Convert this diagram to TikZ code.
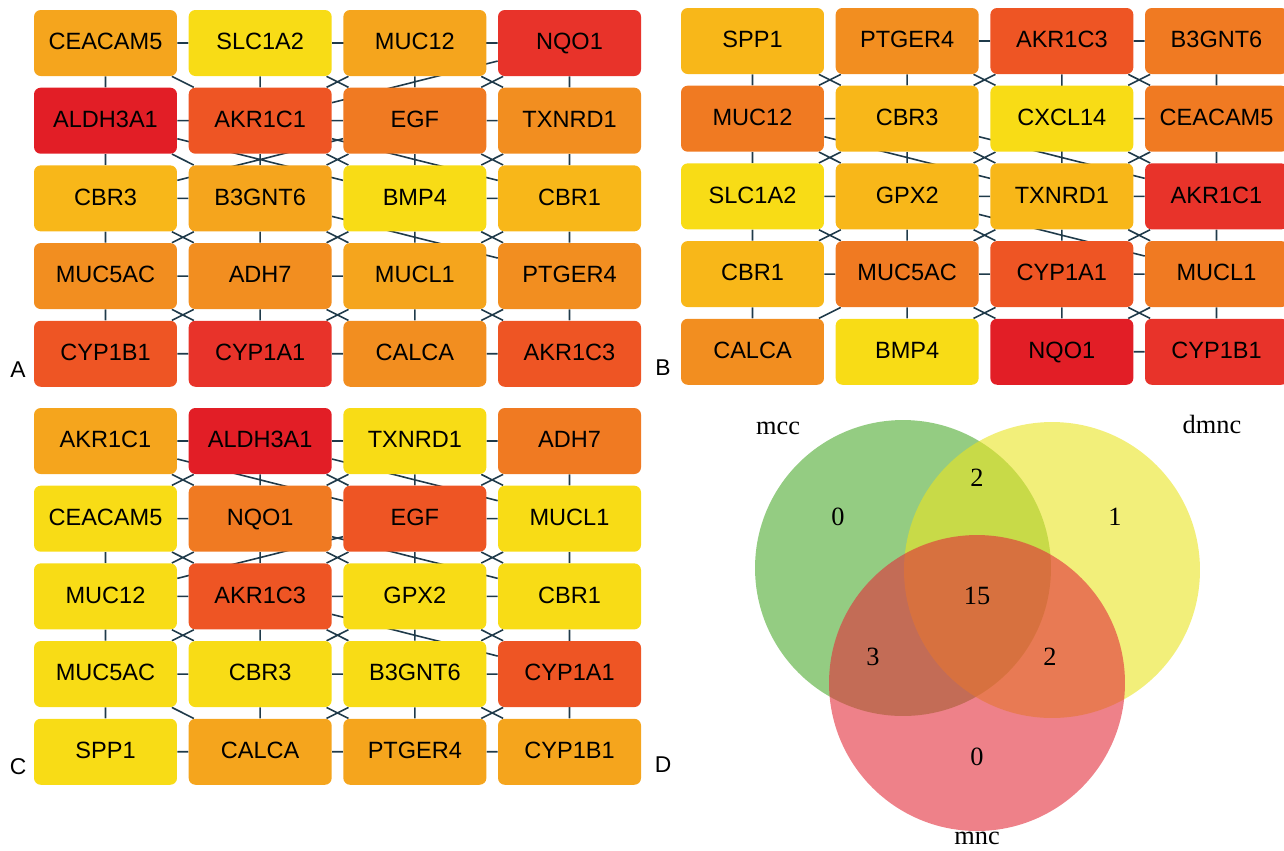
\documentclass[tikz,border=0pt]{standalone}
\usepackage{fontspec}
\setmainfont{Liberation Sans}
\newfontfamily\vennfont{Liberation Serif}
\usepackage{xcolor}
\usepackage{tikz}
\usetikzlibrary{positioning,backgrounds}
\definecolor{hubDeep}{HTML}{E21E26}
\definecolor{hubRed}{HTML}{E8332A}
\definecolor{hubVermil}{HTML}{EE5524}
\definecolor{hubOrange}{HTML}{F07A22}
\definecolor{hubAmber}{HTML}{F28E20}
\definecolor{hubGold}{HTML}{F5A51D}
\definecolor{hubSaffron}{HTML}{F8B719}
\definecolor{hubYellow}{HTML}{F8DC16}
\definecolor{netInk}{HTML}{1F3A4A}
\definecolor{vennGreen}{HTML}{4DAA2E}
\definecolor{vennYellow}{HTML}{EAE422}
\definecolor{vennRed}{HTML}{E22D3A}
\tikzset{
  gene box/.style={rounded corners=3.8pt,minimum width=2.86cm,minimum height=1.32cm,
    inner sep=2pt,text height=1.75ex,text depth=0.3ex,font=\fontsize{13.4}{15}\selectfont,text=black},
  net edge/.style={draw=netInk,line width=0.9pt},
  panel tag/.style={font=\fontsize{13}{15}\selectfont},
  venn set/.style={fill opacity=0.6},
  venn text/.style={font=\vennfont\fontsize{15}{17}\selectfont}
}

\begin{document}
\begin{tikzpicture}[x=0.02cm,y=-0.02cm,node distance=0.22cm and 0.22cm]
\useasboundingbox (0,0) rectangle (1284,850);
% panel A
\node[gene box,fill=hubGold] (A-CEACAM5) at (105.5,43) {CEACAM5};
\node[gene box,fill=hubYellow,right=of A-CEACAM5] (A-SLC1A2) {SLC1A2};
\node[gene box,fill=hubGold,right=of A-SLC1A2] (A-MUC12) {MUC12};
\node[gene box,fill=hubRed,right=of A-MUC12] (A-NQO1) {NQO1};
\node[gene box,fill=hubDeep,below=of A-CEACAM5] (A-ALDH3A1) {ALDH3A1};
\node[gene box,fill=hubVermil,right=of A-ALDH3A1] (A-AKR1C1) {AKR1C1};
\node[gene box,fill=hubOrange,right=of A-AKR1C1] (A-EGF) {EGF};
\node[gene box,fill=hubAmber,right=of A-EGF] (A-TXNRD1) {TXNRD1};
\node[gene box,fill=hubSaffron,below=of A-ALDH3A1] (A-CBR3) {CBR3};
\node[gene box,fill=hubGold,right=of A-CBR3] (A-B3GNT6) {B3GNT6};
\node[gene box,fill=hubYellow,right=of A-B3GNT6] (A-BMP4) {BMP4};
\node[gene box,fill=hubSaffron,right=of A-BMP4] (A-CBR1) {CBR1};
\node[gene box,fill=hubAmber,below=of A-CBR3] (A-MUC5AC) {MUC5AC};
\node[gene box,fill=hubAmber,right=of A-MUC5AC] (A-ADH7) {ADH7};
\node[gene box,fill=hubGold,right=of A-ADH7] (A-MUCL1) {MUCL1};
\node[gene box,fill=hubAmber,right=of A-MUCL1] (A-PTGER4) {PTGER4};
\node[gene box,fill=hubVermil,below=of A-MUC5AC] (A-CYP1B1) {CYP1B1};
\node[gene box,fill=hubRed,right=of A-CYP1B1] (A-CYP1A1) {CYP1A1};
\node[gene box,fill=hubAmber,right=of A-CYP1A1] (A-CALCA) {CALCA};
\node[gene box,fill=hubVermil,right=of A-CALCA] (A-AKR1C3) {AKR1C3};
\node[panel tag] (tagA) at (18,370) {A};
% panel B
\node[gene box,fill=hubSaffron] (B-SPP1) at (752.5,41) {SPP1};
\node[gene box,fill=hubAmber,right=of B-SPP1] (B-PTGER4) {PTGER4};
\node[gene box,fill=hubVermil,right=of B-PTGER4] (B-AKR1C3) {AKR1C3};
\node[gene box,fill=hubOrange,right=of B-AKR1C3] (B-B3GNT6) {B3GNT6};
\node[gene box,fill=hubOrange,below=of B-SPP1] (B-MUC12) {MUC12};
\node[gene box,fill=hubSaffron,right=of B-MUC12] (B-CBR3) {CBR3};
\node[gene box,fill=hubYellow,right=of B-CBR3] (B-CXCL14) {CXCL14};
\node[gene box,fill=hubOrange,right=of B-CXCL14] (B-CEACAM5) {CEACAM5};
\node[gene box,fill=hubYellow,below=of B-MUC12] (B-SLC1A2) {SLC1A2};
\node[gene box,fill=hubSaffron,right=of B-SLC1A2] (B-GPX2) {GPX2};
\node[gene box,fill=hubSaffron,right=of B-GPX2] (B-TXNRD1) {TXNRD1};
\node[gene box,fill=hubRed,right=of B-TXNRD1] (B-AKR1C1) {AKR1C1};
\node[gene box,fill=hubSaffron,below=of B-SLC1A2] (B-CBR1) {CBR1};
\node[gene box,fill=hubOrange,right=of B-CBR1] (B-MUC5AC) {MUC5AC};
\node[gene box,fill=hubVermil,right=of B-MUC5AC] (B-CYP1A1) {CYP1A1};
\node[gene box,fill=hubOrange,right=of B-CYP1A1] (B-MUCL1) {MUCL1};
\node[gene box,fill=hubAmber,below=of B-CBR1] (B-CALCA) {CALCA};
\node[gene box,fill=hubYellow,right=of B-CALCA] (B-BMP4) {BMP4};
\node[gene box,fill=hubDeep,right=of B-BMP4] (B-NQO1) {NQO1};
\node[gene box,fill=hubRed,right=of B-NQO1] (B-CYP1B1) {CYP1B1};
\node[panel tag] (tagB) at (663,368) {B};
% panel C
\node[gene box,fill=hubGold] (C-AKR1C1) at (105.5,441) {AKR1C1};
\node[gene box,fill=hubDeep,right=of C-AKR1C1] (C-ALDH3A1) {ALDH3A1};
\node[gene box,fill=hubYellow,right=of C-ALDH3A1] (C-TXNRD1) {TXNRD1};
\node[gene box,fill=hubOrange,right=of C-TXNRD1] (C-ADH7) {ADH7};
\node[gene box,fill=hubYellow,below=of C-AKR1C1] (C-CEACAM5) {CEACAM5};
\node[gene box,fill=hubOrange,right=of C-CEACAM5] (C-NQO1) {NQO1};
\node[gene box,fill=hubVermil,right=of C-NQO1] (C-EGF) {EGF};
\node[gene box,fill=hubYellow,right=of C-EGF] (C-MUCL1) {MUCL1};
\node[gene box,fill=hubYellow,below=of C-CEACAM5] (C-MUC12) {MUC12};
\node[gene box,fill=hubVermil,right=of C-MUC12] (C-AKR1C3) {AKR1C3};
\node[gene box,fill=hubYellow,right=of C-AKR1C3] (C-GPX2) {GPX2};
\node[gene box,fill=hubYellow,right=of C-GPX2] (C-CBR1) {CBR1};
\node[gene box,fill=hubYellow,below=of C-MUC12] (C-MUC5AC) {MUC5AC};
\node[gene box,fill=hubYellow,right=of C-MUC5AC] (C-CBR3) {CBR3};
\node[gene box,fill=hubYellow,right=of C-CBR3] (C-B3GNT6) {B3GNT6};
\node[gene box,fill=hubVermil,right=of C-B3GNT6] (C-CYP1A1) {CYP1A1};
\node[gene box,fill=hubYellow,below=of C-MUC5AC] (C-SPP1) {SPP1};
\node[gene box,fill=hubGold,right=of C-SPP1] (C-CALCA) {CALCA};
\node[gene box,fill=hubGold,right=of C-CALCA] (C-PTGER4) {PTGER4};
\node[gene box,fill=hubGold,right=of C-PTGER4] (C-CYP1B1) {CYP1B1};
\node[panel tag] (tagC) at (18,767) {C};
\node[panel tag] (tagD) at (663,765) {D};

\begin{scope}[on background layer]
\draw[net edge] (A-CEACAM5) -- (A-SLC1A2) (A-CEACAM5) -- (A-AKR1C1) (A-CEACAM5) -- (A-ALDH3A1)
  (A-SLC1A2) -- (A-AKR1C1) (A-SLC1A2) -- (A-EGF) (A-SLC1A2) -- (A-NQO1)
  (A-MUC12) -- (A-NQO1) (A-MUC12) -- (A-AKR1C1) (A-MUC12) -- (A-EGF) (A-MUC12) -- (A-TXNRD1)
  (A-NQO1) -- (A-TXNRD1) (A-NQO1) -- (A-EGF) (A-NQO1) -- (A-AKR1C1)
  (A-ALDH3A1) -- (A-AKR1C1) (A-ALDH3A1) -- (A-CBR3) (A-ALDH3A1) -- (A-B3GNT6) (A-ALDH3A1) -- (A-BMP4) (A-ALDH3A1) -- (A-EGF)
  (A-AKR1C1) -- (A-EGF) (A-AKR1C1) -- (A-B3GNT6) (A-AKR1C1) -- (A-BMP4) (A-AKR1C1) -- (A-CBR1)
  (A-EGF) -- (A-TXNRD1) (A-EGF) -- (A-CBR3) (A-EGF) -- (A-B3GNT6) (A-EGF) -- (A-BMP4) (A-EGF) -- (A-CBR1)
  (A-TXNRD1) -- (A-CBR1) (A-TXNRD1) -- (A-BMP4)
  (A-CBR3) -- (A-B3GNT6) (A-CBR3) -- (A-MUC5AC) (A-CBR3) -- (A-ADH7)
  (A-B3GNT6) -- (A-MUC5AC) (A-B3GNT6) -- (A-ADH7) (A-B3GNT6) -- (A-MUCL1) (A-B3GNT6) -- (A-PTGER4)
  (A-BMP4) -- (A-CBR1) (A-BMP4) -- (A-ADH7) (A-BMP4) -- (A-MUCL1) (A-BMP4) -- (A-PTGER4)
  (A-CBR1) -- (A-PTGER4) (A-CBR1) -- (A-MUCL1)
  (A-MUC5AC) -- (A-ADH7) (A-MUC5AC) -- (A-CYP1B1) (A-MUC5AC) -- (A-CYP1A1)
  (A-ADH7) -- (A-MUCL1) (A-ADH7) -- (A-CYP1B1) (A-ADH7) -- (A-CYP1A1) (A-ADH7) -- (A-CALCA)
  (A-MUCL1) -- (A-CALCA) (A-MUCL1) -- (A-CYP1A1) (A-MUCL1) -- (A-AKR1C3)
  (A-PTGER4) -- (A-AKR1C3) (A-PTGER4) -- (A-CALCA)
  (A-CYP1B1) -- (A-CYP1A1) (A-CYP1A1) -- (A-CALCA) (A-CALCA) -- (A-AKR1C3);
\draw[net edge] (B-SPP1) -- (B-MUC12) (B-SPP1) -- (B-CBR3)
  (B-PTGER4) -- (B-CBR3) (B-PTGER4) -- (B-AKR1C3) (B-PTGER4) -- (B-CXCL14) (B-PTGER4) -- (B-MUC12)
  (B-AKR1C3) -- (B-B3GNT6) (B-AKR1C3) -- (B-CBR3) (B-AKR1C3) -- (B-CXCL14) (B-AKR1C3) -- (B-CEACAM5) (B-AKR1C3) -- (B-TXNRD1)
  (B-B3GNT6) -- (B-CEACAM5) (B-B3GNT6) -- (B-CXCL14)
  (B-MUC12) -- (B-CBR3) (B-MUC12) -- (B-SLC1A2) (B-MUC12) -- (B-GPX2) (B-MUC12) -- (B-TXNRD1)
  (B-CBR3) -- (B-GPX2) (B-CBR3) -- (B-TXNRD1) (B-CBR3) -- (B-AKR1C1) (B-CBR3) -- (B-SLC1A2)
  (B-CXCL14) -- (B-TXNRD1) (B-CXCL14) -- (B-CEACAM5) (B-CXCL14) -- (B-AKR1C1) (B-CXCL14) -- (B-GPX2)
  (B-CEACAM5) -- (B-AKR1C1) (B-CEACAM5) -- (B-TXNRD1)
  (B-SLC1A2) -- (B-GPX2) (B-SLC1A2) -- (B-CBR1) (B-SLC1A2) -- (B-MUC5AC)
  (B-GPX2) -- (B-CBR1) (B-GPX2) -- (B-MUC5AC) (B-GPX2) -- (B-TXNRD1) (B-GPX2) -- (B-CYP1A1) (B-GPX2) -- (B-MUCL1)
  (B-TXNRD1) -- (B-CYP1A1) (B-TXNRD1) -- (B-MUCL1) (B-TXNRD1) -- (B-MUC5AC)
  (B-AKR1C1) -- (B-MUCL1) (B-AKR1C1) -- (B-CYP1A1) (B-AKR1C1) -- (B-TXNRD1)
  (B-CBR1) -- (B-MUC5AC) (B-CBR1) -- (B-CALCA)
  (B-MUC5AC) -- (B-CALCA) (B-MUC5AC) -- (B-BMP4) (B-MUC5AC) -- (B-CYP1A1) (B-MUC5AC) -- (B-NQO1)
  (B-CYP1A1) -- (B-MUCL1) (B-CYP1A1) -- (B-NQO1) (B-CYP1A1) -- (B-CYP1B1) (B-CYP1A1) -- (B-BMP4)
  (B-MUCL1) -- (B-CYP1B1) (B-MUCL1) -- (B-NQO1) (B-NQO1) -- (B-CYP1B1);
\draw[net edge] (C-AKR1C1) -- (C-ALDH3A1) (C-AKR1C1) -- (C-NQO1) (C-AKR1C1) -- (C-EGF)
  (C-ALDH3A1) -- (C-TXNRD1) (C-ALDH3A1) -- (C-NQO1) (C-ALDH3A1) -- (C-EGF) (C-ALDH3A1) -- (C-MUCL1) (C-ALDH3A1) -- (C-CEACAM5)
  (C-TXNRD1) -- (C-ADH7) (C-TXNRD1) -- (C-EGF) (C-TXNRD1) -- (C-NQO1) (C-TXNRD1) -- (C-MUCL1)
  (C-ADH7) -- (C-MUCL1) (C-ADH7) -- (C-EGF)
  (C-CEACAM5) -- (C-NQO1) (C-CEACAM5) -- (C-AKR1C3) (C-CEACAM5) -- (C-MUC12)
  (C-NQO1) -- (C-AKR1C3) (C-NQO1) -- (C-GPX2) (C-NQO1) -- (C-MUC12) (C-NQO1) -- (C-CBR1)
  (C-EGF) -- (C-MUCL1) (C-EGF) -- (C-GPX2) (C-EGF) -- (C-AKR1C3) (C-EGF) -- (C-CBR1) (C-EGF) -- (C-MUC12)
  (C-MUCL1) -- (C-CBR1) (C-MUCL1) -- (C-GPX2)
  (C-MUC12) -- (C-AKR1C3) (C-MUC12) -- (C-MUC5AC) (C-MUC12) -- (C-CBR3)
  (C-AKR1C3) -- (C-GPX2) (C-AKR1C3) -- (C-CBR3) (C-AKR1C3) -- (C-MUC5AC) (C-AKR1C3) -- (C-B3GNT6) (C-AKR1C3) -- (C-CYP1A1)
  (C-GPX2) -- (C-CBR1) (C-GPX2) -- (C-B3GNT6) (C-GPX2) -- (C-CYP1A1) (C-GPX2) -- (C-CBR3)
  (C-CBR1) -- (C-CYP1A1) (C-CBR1) -- (C-B3GNT6) (C-CBR1) -- (C-CYP1B1)
  (C-MUC5AC) -- (C-CBR3) (C-MUC5AC) -- (C-CALCA) (C-MUC5AC) -- (C-SPP1)
  (C-CBR3) -- (C-B3GNT6) (C-CBR3) -- (C-CALCA) (C-CBR3) -- (C-PTGER4)
  (C-B3GNT6) -- (C-CYP1A1) (C-B3GNT6) -- (C-PTGER4) (C-B3GNT6) -- (C-CYP1B1) (C-B3GNT6) -- (C-CALCA)
  (C-CYP1A1) -- (C-CYP1B1) (C-CYP1A1) -- (C-PTGER4)
  (C-SPP1) -- (C-CALCA) (C-CALCA) -- (C-PTGER4) (C-PTGER4) -- (C-CYP1B1);
\end{scope}

% panel D, venn of the three rankings
\fill[vennGreen,venn set] (903,568) circle[radius=2.96cm];
\fill[vennYellow,venn set] (1052,570) circle[radius=2.96cm];
\fill[vennRed,venn set] (977,683) circle[radius=2.96cm];
\node[venn text] (mcc) at (778,428) {mcc};
\node[venn text] (dmnc) at (1212,424) {dmnc};
\node[venn text] (mnc) at (977,838) {mnc};
\node[venn text] (onlyMcc) at (838,517) {0};
\node[venn text] (mccDmnc) at (977,478) {2};
\node[venn text] (onlyDmnc) at (1115,517) {1};
\node[venn text] (allThree) at (977,596) {15};
\node[venn text] (mccMnc) at (873,657) {3};
\node[venn text] (dmncMnc) at (1050,657) {2};
\node[venn text] (onlyMnc) at (977,757) {0};
\end{tikzpicture}
\end{document}
